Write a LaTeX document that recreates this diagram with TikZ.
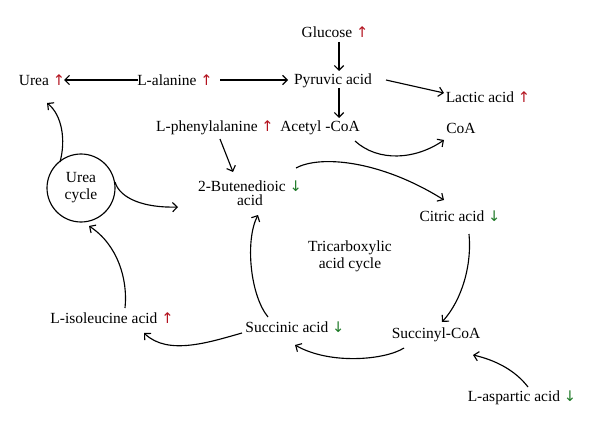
\documentclass[tikz,border=0pt]{standalone}
\usepackage{fontspec}
\setmainfont{Liberation Serif}
\newfontfamily\arrfont{DejaVu Sans}
\usetikzlibrary{arrows.meta}
\definecolor{upred}{HTML}{B3121E}
\definecolor{dngreen}{HTML}{1F7A28}
\newcommand{\upar}{{\arrfont\color{upred}\fontsize{11}{12}\selectfont ↑}}
\newcommand{\dnar}{{\arrfont\color{dngreen}\fontsize{11}{12}\selectfont ↓}}
\begin{document}
\begin{tikzpicture}[x=0.75pt,y=-0.75pt,
  lbl/.style={inner sep=1pt,font=\fontsize{11.6}{12.75}\selectfont,align=center},
  arr/.style={line width=0.85pt,-{Straight Barb[length=3.5pt,width=7pt]}}]
\useasboundingbox (0,0) rectangle (600,435);
% nodes
\node[lbl] (glu) at (335,32) {Glucose \upar};
\node[lbl] (pyr) at (333,81) {Pyruvic acid};
\node[lbl] (ace) at (320,128) {Acetyl -CoA};
\node[lbl] (lac) at (488,97) {Lactic acid \upar};
\node[lbl] (coa) at (461,128) {CoA};
\node[lbl] (phe) at (215,128) {L-phenylalanine \upar};
\node[lbl] (but) at (250,193) {2-Butenedioic \dnar\\[-2pt]acid};
\node[lbl] (urea) at (42,80) {Urea \upar};
\node[lbl] (ala) at (175,80) {L-alanine \upar};
\node[lbl,circle,draw,line width=0.85pt,minimum size=68*0.75pt] (uc) at (81,188) {Urea\\cycle};
\node[lbl] (ile) at (112,318) {L-isoleucine acid \upar};
\node[lbl] (suc) at (295,327) {Succinic acid \dnar};
\node[lbl] (scoa) at (436,335) {Succinyl-CoA};
\node[lbl] (asp) at (522,398) {L-aspartic acid \dnar};
\node[lbl] (cit) at (460,216) {Citric acid \dnar};
\node[lbl] (tca) at (350,256) {Tricarboxylic\\acid cycle};
\coordinate (ucout) at (178,207);
% connectors
\draw[arr] ([shift={(4,10)}]glu.center) -- ([shift={(6,-10)}]pyr.center);
\draw[arr] ([shift={(6,7)}]pyr.center) -- ([shift={(19,-10)}]ace.center);
\draw[arr] ([shift={(53,-1)}]pyr.center) -- ([shift={(-44,-4)}]lac.center);
\draw[arr] ([shift={(35,13)}]ace.center) .. controls +(23,21) and +(-29,20) .. ([shift={(-17,12)}]coa.center);
\draw[arr] ([shift={(-37,0)}]ala.center) -- ([shift={(22,0)}]urea.center);
\draw[arr] ([shift={(45,0)}]ala.center) -- ([shift={(-45,-1)}]pyr.center);
\draw[arr] ([shift={(5,11)}]phe.center) -- ([shift={(-17,-21)}]but.center);
\draw[arr] ([shift={(-21,-26)}]uc.center) .. controls +(6,-22) and +(15,12) .. ([shift={(5,23)}]urea.center);
\draw[arr] ([shift={(34,-6)}]uc.center) .. controls +(5,17) and +(-33,1) .. (ucout);
\draw[arr] ([shift={(13,-10)}]ile.center) .. controls +(3,-28) and +(29,19) .. ([shift={(8,38)}]uc.center);
\draw[arr] ([shift={(-53,6)}]suc.center) .. controls +(-32,9) and +(24,23) .. ([shift={(32,15)}]ile.center);
\draw[arr] ([shift={(-32,13)}]scoa.center) .. controls +(-19,12) and +(35,20) .. ([shift={(0,18)}]suc.center);
\draw[arr] ([shift={(6,-11)}]asp.center) .. controls +(-13,-17) and +(22,5) .. ([shift={(37,20)}]scoa.center);
\draw[arr] ([shift={(46,-25)}]but.center) .. controls +(24,-13) and +(-64,-40) .. ([shift={(-16,-16)}]cit.center);
\draw[arr] ([shift={(9,18)}]cit.center) .. controls +(3,31) and +(20,-22) .. ([shift={(6,-13)}]scoa.center);
\draw[arr] ([shift={(-27,-10)}]suc.center) .. controls +(-18,-22) and +(-13,25) .. ([shift={(8,22)}]but.center);
\end{tikzpicture}
\end{document}
